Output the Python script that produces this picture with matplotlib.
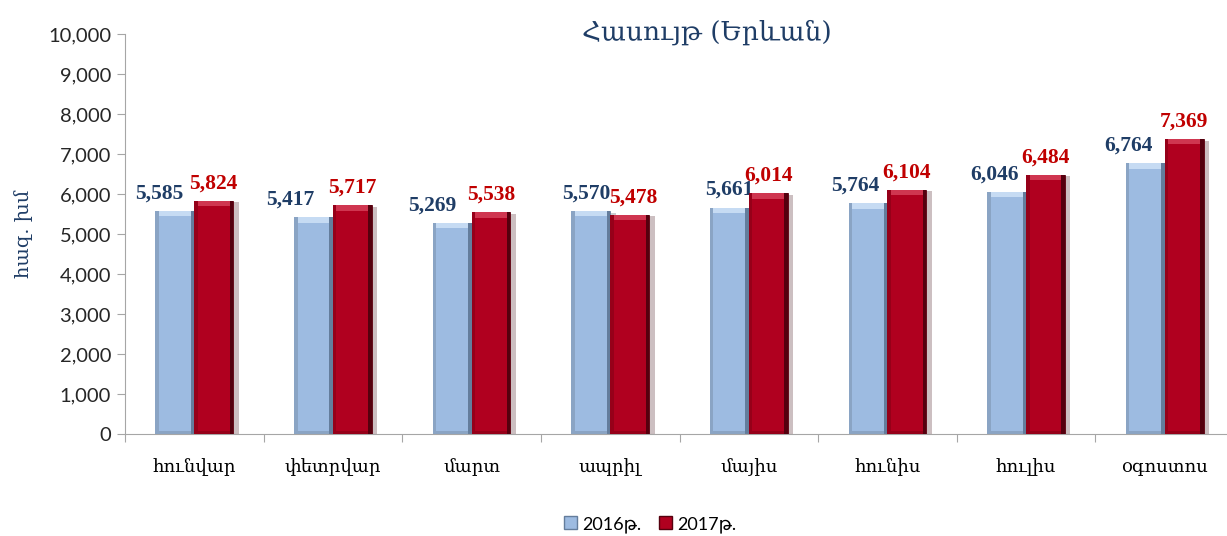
import matplotlib.pyplot as plt
import matplotlib.patheffects as pe
from matplotlib.patches import Patch
from matplotlib.ticker import FuncFormatter
import numpy as np

# Տվյալներ
months = ['հունվար', 'փետրվար', 'մարտ', 'ապրիլ', 'մայիս', 'հունիս', 'հուլիս', 'օգոստոս']
vals_2016 = [5585, 5417, 5269, 5570, 5661, 5764, 6046, 6764]
vals_2017 = [5824, 5717, 5538, 5478, 6014, 6104, 6484, 7369]
series_names = ['2016թ.', '2017թ.']
title = 'Հասույթ (Երևան)'
ylabel = 'հազ. խմ'

# պիտակների հորիզոնական շեղում (pt)
shift_2016 = [-11, -17, -14, -3, 0, -9, -9, -12]
shift_2017 = [0, 0, 0, 3, 0, 0, 0, 0]

blue = '#9dbbe1'
red = '#b0001f'
serif = ['DejaVu Serif']
sans = ['Lato', 'DejaVu Sans']

fig = plt.figure(figsize=(12.27, 5.36), dpi=100)
ax = fig.add_axes([125 / 1227, 1 - 434 / 536, 1109 / 1227, 400 / 536])

x = np.arange(len(months))
w = 0.28
e = 0.025  # եզրի լայնություն
shadow = [pe.SimplePatchShadow(offset=(4, -1), alpha=0.25), pe.Normal()]


def bevel_bar(xs, vals, color, edge_dark, edge_mid, top_light, z):
    ax.bar(xs, vals, w, color=color, edgecolor=edge_dark, linewidth=0.6,
           path_effects=shadow, zorder=z)
    ax.bar(xs - w / 2 + e / 2, vals, e, color=edge_mid, linewidth=0, zorder=z + 0.1)
    ax.bar(xs + w / 2 - e / 2, vals, e, color=edge_dark, linewidth=0, zorder=z + 0.1)
    ax.bar(xs, [130] * len(vals), w - 2 * e, bottom=np.array(vals) - 130, color=top_light,
           linewidth=0, zorder=z + 0.2)
    ax.bar(xs, [70] * len(vals), w - 2 * e, color=edge_mid, linewidth=0, zorder=z + 0.2)


bevel_bar(x - w / 2, vals_2016, blue, '#647d9c', '#8aa4c4', '#c6dbf3', 2)
bevel_bar(x + w / 2, vals_2017, red, '#55000e', '#960019', '#cf3650', 3)

for i, v in enumerate(vals_2016):
    ax.annotate(f'{v:,}', (x[i] - w / 2, v), xytext=(shift_2016[i], 9), textcoords='offset points',
                ha='center', va='baseline', fontsize=15.5, fontweight='bold',
                family='Liberation Serif', color='#1f3d66')
for i, v in enumerate(vals_2017):
    ax.annotate(f'{v:,}', (x[i] + w / 2, v), xytext=(shift_2017[i], 9), textcoords='offset points',
                ha='center', va='baseline', fontsize=15.5, fontweight='bold',
                family='Liberation Serif', color='#c00000')

ax.set_xlim(-0.5, len(months) - 0.5)
ax.set_ylim(0, 10000)
ax.set_yticks(range(0, 10001, 1000))
ax.yaxis.set_major_formatter(FuncFormatter(lambda v, p: f'{int(v):,}'))
ax.set_xticks(np.arange(len(months) + 1) - 0.5, minor=False)
ax.set_xticklabels([])
ax.set_xticks(x, minor=True)
ax.set_xticklabels(months, minor=True, family=serif, fontsize=13)
ax.tick_params(axis='x', which='minor', length=0, pad=17)
ax.tick_params(axis='x', which='major', length=6, color='#a6a6a6')
ax.tick_params(axis='y', length=6, color='#a6a6a6', labelsize=14.5, labelcolor='#262626', pad=4)
for lab in ax.get_yticklabels():
    lab.set_family(sans)

for s in ['top', 'right']:
    ax.spines[s].set_visible(False)
for s in ['left', 'bottom']:
    ax.spines[s].set_color('#a6a6a6')

ax.set_ylabel(ylabel, family=serif, fontsize=14, color='#1f3d66', labelpad=11)
fig.text(0.576, 0.94, title, ha='center', va='center', family=serif, fontsize=19,
         color='#1f3d66')

handles = [Patch(facecolor=blue, edgecolor='#647d9c', label=series_names[0]),
           Patch(facecolor=red, edgecolor='#55000e', label=series_names[1])]
fig.legend(handles=handles, loc='center', bbox_to_anchor=(0.53, 0.022), ncol=2, frameon=False,
           prop={'family': sans, 'size': 13}, handlelength=0.7, handleheight=0.7,
           handletextpad=0.3, columnspacing=1.0)

fig.savefig('out.png', dpi=100)
